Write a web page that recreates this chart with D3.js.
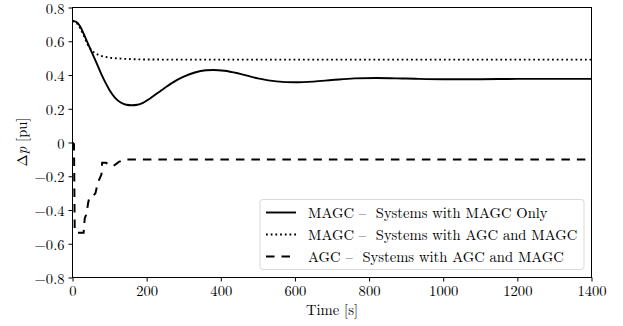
<!DOCTYPE html>
<html><head><meta charset="utf-8">
<script src="https://cdn.jsdelivr.net/npm/d3@7"></script>
<style>body{margin:0;background:#fff}svg{display:block}</style>
</head><body><svg id="c" width="623" height="326"></svg>
<script>
// Data
const magcOnlyT = [0,10,20,30,40,50,60,70,80,90,100,115,130,145,160,175,190,210,240,270,300,330,360,380,410,450,500,550,600,650,700,760,820,900,1000,1100,1200,1300,1400];
const magcOnlyV = [0.72,0.715,0.69,0.645,0.595,0.545,0.495,0.445,0.395,0.35,0.31,0.265,0.237,0.224,0.221,0.224,0.235,0.262,0.31,0.355,0.39,0.415,0.428,0.43,0.425,0.408,0.38,0.362,0.357,0.361,0.37,0.38,0.382,0.379,0.375,0.375,0.377,0.377,0.377];
const magcBothT = [0,10,20,30,40,50,60,75,90,110,130,160,200,300,600,1000,1400];
const magcBothV = [0.72,0.71,0.68,0.635,0.585,0.55,0.53,0.515,0.507,0.5,0.497,0.494,0.492,0.491,0.491,0.491,0.491];
const agcBothT = [0,4,6,10,30,33,38,42,45,55,62,66,72,78,80,90,100,110,125,140,1400];
const agcBothV = [0,-0.01,-0.52,-0.535,-0.535,-0.45,-0.42,-0.36,-0.33,-0.32,-0.30,-0.26,-0.22,-0.19,-0.12,-0.12,-0.13,-0.14,-0.115,-0.10,-0.10];
const seriesNames = ["MAGC \u2013  Systems with MAGC Only","MAGC \u2013  Systems with AGC and MAGC","AGC \u2013  Systems with AGC and MAGC"];
const xTicks = [0,200,400,600,800,1000,1200,1400];
const yTicks = [-0.8,-0.6,-0.4,-0.2,0,0.2,0.4,0.6,0.8];

const FONT = '"Latin Modern Roman","CMU Serif","Liberation Serif",serif';
const FS = "14.6px";
const svg = d3.select("#c");
const L = 72.5, R = 591.5, T = 7.5, B = 277.5;
const x = d3.scaleLinear().domain([0,1400]).range([L,R]);
const y = d3.scaleLinear().domain([-0.8,0.8]).range([B,T]);

const styles = [
  {dash:null, w:1.9},
  {dash:"1.8,2.9", w:1.9},
  {dash:"8.5,7", w:2}
];
const data = [
  magcOnlyT.map((t,i)=>[t,magcOnlyV[i]]),
  magcBothT.map((t,i)=>[t,magcBothV[i]]),
  agcBothT.map((t,i)=>[t,agcBothV[i]])
];
const curves = [d3.curveMonotoneX, d3.curveMonotoneX, d3.curveLinear];

svg.append("defs").append("clipPath").attr("id","clip").append("rect")
  .attr("x",L).attr("y",T).attr("width",R-L).attr("height",B-T);

data.forEach((d,i)=>{
  svg.append("path").attr("clip-path","url(#clip)")
    .attr("d", d3.line().x(p=>x(p[0])).y(p=>y(p[1])).curve(curves[i])(d))
    .attr("fill","none").attr("stroke","#000").attr("stroke-width",styles[i].w)
    .attr("stroke-dasharray",styles[i].dash);
});

// frame
svg.append("rect").attr("x",L).attr("y",T).attr("width",R-L).attr("height",B-T)
  .attr("fill","none").attr("stroke","#000").attr("stroke-width",1);

const fmtY = v => v===0 ? "0" : (v<0 ? "\u2212"+Math.abs(v).toFixed(1) : v.toFixed(1));
const xa = svg.append("g").attr("transform",`translate(0,${B})`)
  .call(d3.axisBottom(x).tickValues(xTicks).tickSize(4).tickPadding(4).tickFormat(d3.format("d")));
const ya = svg.append("g").attr("transform",`translate(${L},0)`)
  .call(d3.axisLeft(y).tickValues(yTicks).tickSize(4).tickPadding(4).tickFormat(fmtY));
[xa,ya].forEach(a=>{
  a.attr("font-family",null).attr("font-size",null);
  a.select(".domain").remove();
  a.selectAll("line").attr("stroke","#000").attr("stroke-width",1);
  a.selectAll("text").style("font-family",FONT).style("font-size",FS).attr("fill","#000");
});
ya.selectAll("text").attr("dy","0.38em");

svg.append("text").attr("x",(L+R)/2).attr("y",315).attr("text-anchor","middle")
  .style("font-family",FONT).style("font-size",FS).text("Time [s]");
const yl = svg.append("text").attr("transform","translate(27,142) rotate(-90)").attr("text-anchor","middle")
  .style("font-family",FONT).style("font-size",FS);
yl.append("tspan").text("\u0394");
yl.append("tspan").style("font-style","italic").text("p");
yl.append("tspan").text(" [pu]");

// legend
const lg = svg.append("g");
lg.append("rect").attr("x",260).attr("y",199.5).attr("width",324).attr("height",70).attr("rx",3)
  .attr("fill","#fff").attr("fill-opacity",0.8).attr("stroke","#d9d9d9").attr("stroke-width",1);
const rowY = [212.5,234.5,256.5];
seriesNames.forEach((n,i)=>{
  lg.append("line").attr("x1",266).attr("x2",296).attr("y1",rowY[i]).attr("y2",rowY[i])
    .attr("stroke","#000").attr("stroke-width",styles[i].w).attr("stroke-dasharray",styles[i].dash);
  lg.append("text").attr("x",308).attr("y",rowY[i]+5).attr("xml:space","preserve")
    .style("white-space","pre").style("font-family",FONT).style("font-size",FS).text(n);
});
</script></body></html>
